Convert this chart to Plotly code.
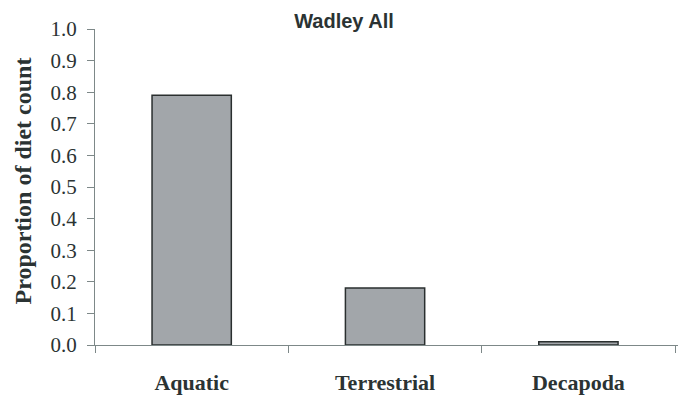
import plotly.graph_objects as go

categories = ["Aquatic", "Terrestrial", "Decapoda"]
values = [0.79, 0.18, 0.01]
y_ticks = [0.0, 0.1, 0.2, 0.3, 0.4, 0.5, 0.6, 0.7, 0.8, 0.9, 1.0]
y_tick_labels = [f"{v:.1f}" for v in y_ticks]
y_title = "Proportion of diet count"

text_color = "#2b3333"
axis_color = "#7d8888"

fig = go.Figure(
    go.Bar(
        x=categories,
        y=values,
        width=0.41,
        marker=dict(color="#a2a6aa", line=dict(color="#2a2f2f", width=1.5)),
    )
)

fig.update_layout(
    width=678,
    height=402,
    margin=dict(l=95, r=0, t=29, b=57),
    paper_bgcolor="white",
    plot_bgcolor="white",
    showlegend=False,
    title=dict(
        text="<b>Wadley All</b>",
        x=344 / 678,
        xanchor="center",
        y=1 - 21 / 402,
        yanchor="middle",
        font=dict(family="Liberation Sans", size=20, color=text_color),
    ),
    annotations=[
        dict(
            text="<b>" + y_title + "</b>",
            textangle=-90,
            xref="paper",
            yref="paper",
            x=(22 - 95) / 583,
            y=(345 - 307) / 316,
            xanchor="center",
            yanchor="bottom",
            showarrow=False,
            font=dict(family="Liberation Serif", size=24, color=text_color),
        )
    ],
)

fig.update_xaxes(
    type="category",
    range=[-0.5, 2.515],
    tickson="boundaries",
    ticks="outside",
    ticklen=7,
    tickcolor=axis_color,
    showline=True,
    linecolor=axis_color,
    linewidth=1,
    showgrid=False,
    automargin=False,
    tickfont=dict(family="Liberation Serif", size=22, color=text_color, weight="bold"),
    ticklabelstandoff=18,
)

fig.update_yaxes(
    range=[0, 1.0],
    tickvals=y_ticks,
    ticktext=y_tick_labels,
    ticks="outside",
    ticklen=7,
    tickcolor=axis_color,
    showline=True,
    linecolor=axis_color,
    linewidth=1,
    showgrid=False,
    zeroline=False,
    automargin=False,
    ticklabelstandoff=6,
    tickfont=dict(family="Liberation Serif", size=21, color=text_color),
)

fig.write_html(
    "out.html",
    config={"displayModeBar": False},
    post_script="document.body.style.margin='0px';document.body.style.overflow='hidden';",
)
